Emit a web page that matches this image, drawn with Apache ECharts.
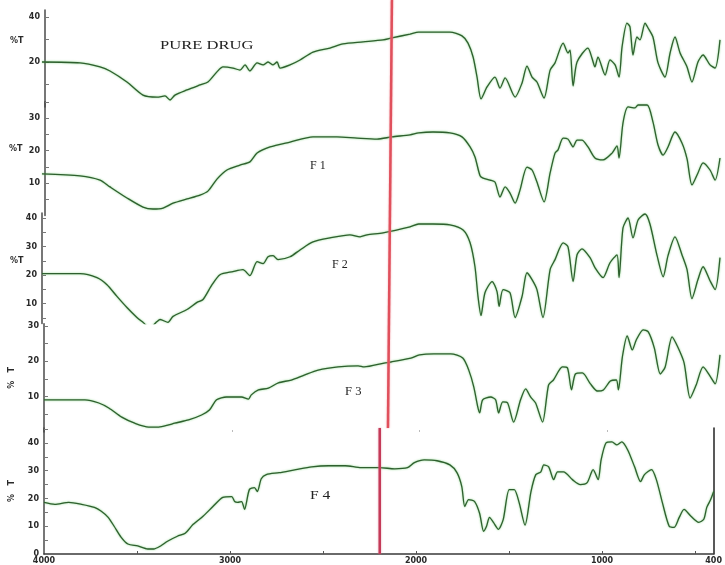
<!DOCTYPE html>
<html>
<head>
<meta charset="utf-8">
<script src="https://cdn.jsdelivr.net/npm/echarts@6/dist/echarts.min.js"></script>
<style>
  html, body { margin: 0; padding: 0; background: #ffffff; }
  #chart { width: 725px; height: 565px; }
</style>
</head>
<body>
<div id="chart"></div>
<script>
// FTIR spectra: [wavenumber (cm-1), %T]
const pureDrug = [
  [4000,20.0],[3798,19.6],[3692,17.8],[3639,16.0],[3549,11.1],[3464,5.3],[3389,4.4],[3347,4.9],
  [3320,3.1],[3294,5.3],[3230,7.6],[3161,9.8],[3119,11.1],[3071,15.6],[3039,17.8],[2986,17.3],
  [2949,16.4],[2922,18.7],[2896,16.0],[2858,19.6],[2826,18.7],[2800,20.0],[2773,18.7],[2752,20.0],
  [2736,17.3],[2683,18.7],[2630,20.9],[2561,24.4],[2471,26.2],[2402,28.0],[2295,28.9],[2189,29.8],
  [2142,30.7],[2046,32.4],[2000,33.3],[1924,33.3],[1834,33.3],[1770,31.6],[1738,28.4],[1711,22.2],
  [1690,13.3],[1669,3.6],[1637,8.9],[1595,13.3],[1568,8.4],[1541,12.9],[1488,4.4],[1451,10.7],
  [1425,18.2],[1398,13.3],[1372,11.1],[1334,4.0],[1302,16.4],[1276,19.6],[1233,28.4],[1207,24.0],
  [1196,25.3],[1180,9.3],[1159,20.0],[1101,26.2],[1080,21.8],[1064,17.8],[1048,22.2],[1010,14.2],
  [984,20.9],[957,18.7],[936,13.3],[920,26.7],[894,37.3],[878,35.6],[862,23.1],[841,31.1],
  [825,29.8],[798,37.3],[782,35.1],[756,31.1],[729,19.6],[692,13.3],[665,24.0],[639,31.1],
  [612,24.0],[575,17.8],[549,11.1],[517,20.0],[490,23.1],[453,18.7],[426,17.3],[400,29.8]
];
const f1 = [
  [4000,12.8],[3798,12.2],[3692,10.9],[3639,8.8],[3549,5.4],[3464,2.6],[3411,2.0],[3357,2.3],
  [3304,3.8],[3230,5.1],[3161,6.3],[3119,7.5],[3071,11.2],[3018,14.0],[2949,15.5],[2896,16.5],
  [2858,19.2],[2789,21.1],[2683,22.6],[2561,24.2],[2434,24.2],[2327,23.8],[2221,23.5],[2142,24.2],
  [2046,24.8],[2000,25.4],[1924,25.7],[1834,25.4],[1770,24.2],[1727,21.1],[1701,18.0],[1674,12.2],
  [1658,11.5],[1621,10.9],[1595,10.3],[1568,5.7],[1541,8.8],[1515,6.9],[1488,3.8],[1462,7.8],
  [1425,14.9],[1398,14.0],[1372,10.3],[1334,4.2],[1302,13.1],[1276,19.2],[1260,20.2],[1233,23.8],
  [1207,23.5],[1180,21.1],[1159,23.2],[1133,23.2],[1101,21.1],[1064,17.7],[1021,17.1],[973,19.2],
  [947,21.4],[936,17.7],[915,28.5],[888,33.4],[851,33.1],[835,34.0],[787,34.0],[756,28.8],
  [729,21.7],[702,18.6],[676,21.1],[639,25.7],[602,22.3],[575,17.4],[549,9.4],[517,13.1],
  [490,16.2],[453,14.0],[426,10.9],[400,17.7]
];
const f2 = [
  [4000,20.5],[3798,20.5],[3708,19.1],[3655,16.6],[3602,12.5],[3549,8.6],[3496,5.1],[3464,3.4],
  [3427,1.5],[3389,3.7],[3373,4.4],[3331,3.4],[3304,5.5],[3230,7.9],[3177,10.4],[3145,11.4],
  [3097,16.6],[3055,20.1],[2986,21.2],[2933,21.9],[2896,19.8],[2858,24.7],[2826,24.0],[2800,26.4],
  [2773,26.8],[2747,25.4],[2683,26.4],[2630,28.8],[2561,31.6],[2471,33.0],[2365,34.1],[2311,33.4],
  [2274,34.1],[2189,34.8],[2046,36.9],[2000,37.9],[1924,37.9],[1834,37.6],[1764,35.8],[1727,31.3],
  [1701,22.9],[1685,12.5],[1669,5.8],[1648,13.8],[1610,17.7],[1584,14.2],[1573,9.0],[1552,14.9],
  [1515,13.8],[1488,5.1],[1451,12.5],[1425,20.8],[1398,18.4],[1372,14.9],[1340,5.1],[1302,21.9],
  [1276,25.4],[1233,31.3],[1207,29.9],[1180,17.7],[1159,27.1],[1133,29.2],[1090,26.1],[1064,22.6],
  [1021,19.1],[984,24.3],[947,27.1],[936,19.1],[915,36.5],[888,40.0],[862,33.0],[835,39.3],
  [798,41.4],[772,37.9],[734,26.8],[702,19.4],[676,26.8],[639,33.4],[602,27.1],[575,21.9],
  [549,11.7],[517,18.4],[490,22.9],[453,18.0],[426,14.9],[400,26.1]
];
const f3 = [
  [4000,9.1],[3782,9.1],[3708,8.2],[3655,6.8],[3586,4.2],[3517,2.5],[3442,1.4],[3389,1.4],
  [3336,2.0],[3304,2.5],[3230,3.4],[3161,4.8],[3119,6.2],[3081,9.1],[3028,9.9],[2949,9.9],
  [2911,9.3],[2896,10.5],[2858,11.9],[2805,12.4],[2752,13.9],[2683,14.7],[2614,16.1],[2540,17.5],
  [2434,18.4],[2327,18.7],[2295,18.4],[2189,19.5],[2152,19.8],[2046,20.9],[2000,21.8],[1924,22.1],
  [1834,22.1],[1770,20.9],[1738,17.5],[1711,12.7],[1690,7.1],[1680,5.4],[1664,9.1],[1621,9.9],
  [1595,9.1],[1579,5.4],[1557,8.5],[1531,8.2],[1499,2.8],[1462,9.1],[1435,12.2],[1409,9.9],
  [1382,8.2],[1345,2.8],[1313,13.3],[1287,14.7],[1239,18.4],[1212,18.1],[1191,11.9],[1170,16.4],
  [1133,16.7],[1090,13.6],[1053,11.6],[1021,11.9],[984,14.4],[952,14.7],[941,11.9],[920,21.2],
  [894,27.2],[867,23.2],[846,26.0],[809,28.9],[782,28.3],[750,23.8],[718,16.4],[692,18.4],
  [655,26.9],[623,23.8],[591,19.5],[559,9.6],[527,13.3],[490,18.4],[453,15.8],[426,13.6],[400,21.8]
];
const f4 = [
  [4000,18.6],[3942,17.9],[3867,18.6],[3798,17.9],[3729,16.8],[3692,15.4],[3655,13.2],[3623,10.0],
  [3586,6.1],[3549,3.6],[3496,2.9],[3442,1.8],[3411,1.8],[3373,2.9],[3336,4.6],[3283,6.4],
  [3241,7.5],[3198,10.7],[3145,13.6],[3092,17.1],[3039,20.4],[2991,20.7],[2975,18.9],[2959,18.6],
  [2938,18.9],[2922,16.1],[2896,23.2],[2869,23.9],[2853,22.5],[2832,27.1],[2805,28.6],[2736,29.3],
  [2646,30.4],[2561,31.4],[2471,31.8],[2380,31.8],[2295,31.1],[2195,31.1],[2115,30.7],[2046,31.1],
  [2009,32.9],[1956,33.9],[1887,33.6],[1818,32.1],[1780,29.3],[1754,24.3],[1738,17.1],[1717,19.6],
  [1685,18.9],[1658,14.6],[1637,8.2],[1621,10.0],[1605,13.2],[1584,11.4],[1557,8.9],[1531,12.5],
  [1499,23.2],[1472,23.2],[1446,18.6],[1414,10.4],[1382,22.5],[1356,28.6],[1329,29.6],[1313,32.1],
  [1287,31.4],[1260,26.8],[1239,29.6],[1207,29.6],[1159,26.8],[1117,25.0],[1080,25.7],[1048,30.4],
  [1021,26.8],[1005,33.9],[979,40.0],[947,40.4],[920,39.3],[894,40.4],[862,37.5],[825,31.4],
  [793,26.1],[772,28.6],[734,30.4],[708,26.8],[676,18.6],[639,10.0],[612,9.6],[585,13.2],
  [559,16.1],[522,13.6],[480,11.4],[453,12.5],[437,16.8],[416,19.6],[400,22.5]
];

// Marker line across the upper four spectra and the one in the F 4 panel
const markerUpper = [[2142, 1], [2163, 0]];
const markerF4 = [[2195, 45.4], [2195, 0]];

// Axis ticks and labels
const xLabels = [4000, 3000, 2000, 1000, 400];
const xTicks = [3500, 3000, 2500, 2000, 1500, 1000, 500];
const yTicks = [
  [10, 20, 30, 40],
  [5, 10, 15, 20, 25, 30, 35],
  [5, 10, 15, 20, 25, 30, 35, 40],
  [5, 10, 15, 20, 25, 30],
  [5, 10, 15, 20, 25, 30, 35, 40, 45]
];
const yLabels = [
  [20, 40],
  [10, 20, 30],
  [10, 20, 30, 40],
  [10, 20, 30],
  [0, 10, 20, 30, 40]
];
const sampleNames = ['PURE DRUG', 'F 1', 'F 2', 'F 3', 'F 4'];
const spectra = [pureDrug, f1, f2, f3, f4];

// Panel layout (pixels) and value ranges
const panels = [
  { top: 10,     height: 97,     min: 0, max: 43.1,  offset: -3 },
  { top: 101.75, height: 113.75, min: 0, max: 35,    offset: -3 },
  { top: 213,    height: 110.5,  min: 3, max: 41.75, offset: 0 },
  { top: 323.8,  height: 108.2,  min: 0, max: 30.6,  offset: 0 },
  { top: 428,    height: 127,    min: 0, max: 45.4,  offset: 0 }
];
// Sample name positions and horizontal stretch
const nameSpots = [[160, 47, 1.38], [310, 167, 1.0], [332, 266, 1.0], [345, 393, 1.05], [310, 497, 1.3]];

const axisFont = { fontSize: 8, fontWeight: 'bold', color: '#2a2a2a', fontFamily: 'DejaVu Sans' };

const grids = panels.map(p => ({ left: 42, right: 5, top: p.top, height: p.height }));
grids.push({ left: 42, right: 5, top: 0, height: 428 });

const xAxes = panels.map((p, i) => {
  const last = i === panels.length - 1;
  return {
    type: 'value', gridIndex: i, min: 400, max: 4000, inverse: true,
    show: last || i === 3,
    splitLine: { show: false },
    axisLine: { show: last, onZero: false, lineStyle: { color: '#3a3a3a', width: 1.5 } },
    axisTick: last
      ? { show: true, inside: true, length: 3, customValues: xTicks, lineStyle: { color: '#555' } }
      : { show: true, inside: true, length: 2, customValues: [3000, 2000, 1000], lineStyle: { color: '#bbb' } },
    axisLabel: last
      ? Object.assign({ show: true, margin: 3, customValues: xLabels, formatter: v => String(v) }, axisFont)
      : { show: false }
  };
});
xAxes.push({ type: 'value', gridIndex: 5, min: 400, max: 4000, inverse: true, show: false });

const yAxes = panels.map((p, i) => ({
  type: 'value', gridIndex: i, min: p.min, max: p.max, offset: p.offset,
  name: i >= 3 ? '%   T' : '',
  nameLocation: 'middle', nameRotate: 90, nameGap: 28,
  nameTextStyle: { fontSize: 8, fontWeight: 'bold', color: '#2a2a2a', fontFamily: 'DejaVu Sans' },
  splitLine: { show: false },
  axisLine: { show: true, onZero: false, lineStyle: { color: '#4a4a4a', width: 1.5 } },
  axisTick: { show: true, inside: true, length: 4, customValues: yTicks[i], lineStyle: { color: '#777' } },
  axisLabel: Object.assign({ show: true, margin: 5, customValues: yLabels[i], formatter: v => String(v) }, axisFont)
}));
yAxes.push({
  type: 'value', gridIndex: 4, position: 'right', min: 0, max: 45.4,
  splitLine: { show: false }, axisTick: { show: false }, axisLabel: { show: false },
  axisLine: { show: true, lineStyle: { color: '#222', width: 1.5 } }
});
yAxes.push({ type: 'value', gridIndex: 5, min: 0, max: 1, show: false });

const series = spectra.map((d, i) => ({
  name: sampleNames[i], type: 'line', xAxisIndex: i, yAxisIndex: i,
  data: d, showSymbol: false, symbol: 'none', smooth: 0.25, clip: true,
  lineStyle: { color: '#2f5f2f', width: 1.3, shadowColor: 'rgba(70,190,70,0.7)', shadowBlur: 2 },
  z: 3
}));
series.push({
  name: 'marker', type: 'line', xAxisIndex: 5, yAxisIndex: 6, data: markerUpper,
  showSymbol: false, symbol: 'none',
  lineStyle: { color: '#e0505c', width: 2.5, shadowColor: 'rgba(240,140,150,0.8)', shadowBlur: 2 }, z: 4
});
series.push({
  name: 'marker F4', type: 'line', xAxisIndex: 4, yAxisIndex: 4, data: markerF4,
  showSymbol: false, symbol: 'none',
  lineStyle: { color: '#c43a58', width: 2.5, shadowColor: 'rgba(220,130,150,0.8)', shadowBlur: 2 }, z: 4
});

const graphics = sampleNames.map((n, i) => ({
  type: 'text', x: nameSpots[i][0], y: nameSpots[i][1] - 7, scaleX: nameSpots[i][2],
  style: { text: n, fontFamily: 'Liberation Serif', fontSize: 12, fill: '#222' }
}));
[[10, 42], [9, 150], [10, 262]].forEach(([x, y]) => {
  graphics.push({
    type: 'text', x: x, y: y - 5,
    style: { text: '%T', fontSize: 8, fontWeight: 'bold', fill: '#2a2a2a', fontFamily: 'DejaVu Sans' }
  });
});

const chart = echarts.init(document.getElementById('chart'), null, { renderer: 'canvas' });
chart.setOption({
  animation: false,
  backgroundColor: '#ffffff',
  grid: grids,
  xAxis: xAxes,
  yAxis: yAxes,
  series: series,
  graphic: graphics
});
</script>
</body>
</html>
